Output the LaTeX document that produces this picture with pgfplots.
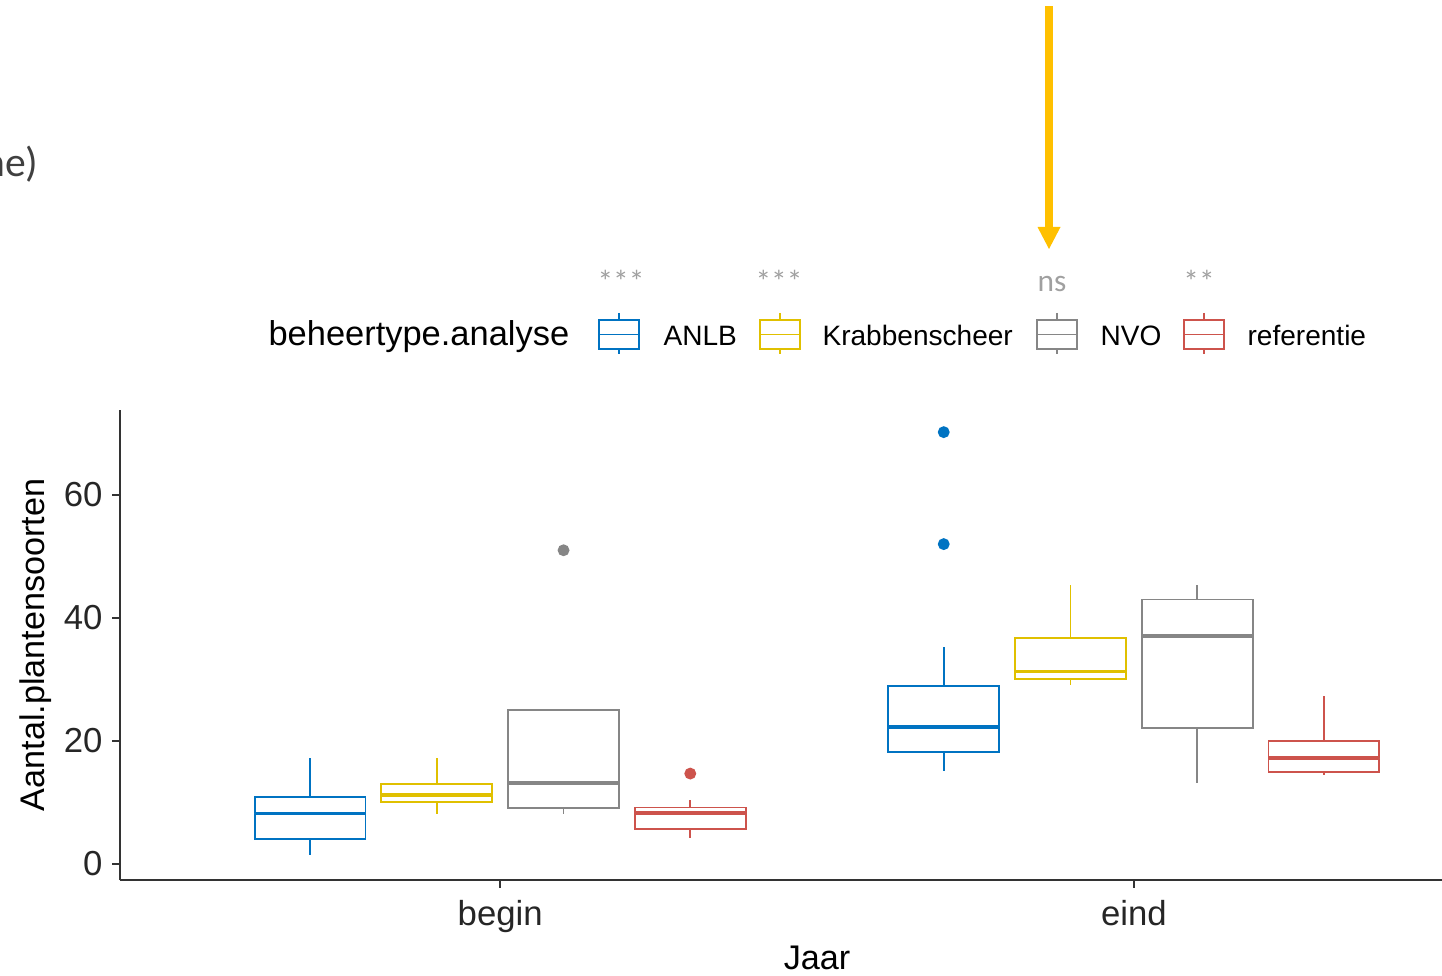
\documentclass[border=0pt]{standalone}
\usepackage{fontspec}
\setmainfont{Liberation Sans}
\newfontfamily\calfont{Carlito}
\usepackage{pgfplots}
\pgfplotsset{compat=1.18}
\usepgfplotslibrary{statistics}
\definecolor{cA}{HTML}{0073C2}
\definecolor{cK}{HTML}{E0C000}
\definecolor{cN}{HTML}{868686}
\definecolor{cR}{HTML}{CD534C}
\definecolor{arr}{HTML}{FFC000}
\definecolor{sig}{HTML}{A0A0A0}
\newcommand\legkey[2]{%
  \draw[#2, line width=0.55pt] (#1-20,320) rectangle (#1+20,349);
  \draw[#2, line width=0.55pt] (#1-20,334.5) -- (#1+20,334.5);
  \draw[#2, line width=0.55pt] (#1,313)--(#1,320) (#1,349)--(#1,354);
}
\pgfplotsset{
  bx/.style={#1, line width=0.65pt, fill=white, mark=*, mark size=1.8pt,
    mark options={fill=#1, draw=#1}},
}
\begin{document}
\begin{tikzpicture}
\useasboundingbox (0,0) rectangle (519.12pt,351pt);
\begin{axis}[
  at={(43.2pt,34.2pt)}, anchor=south west,
  scale only axis, width=501.84pt, height=169.2pt,
  xmin=0.4, xmax=2.6, ymin=-2.6, ymax=73.8,
  axis x line*=bottom, axis y line*=left,
  axis line style={black!80, line width=0.6pt},
  xtick={1,2}, xticklabels={begin,eind},
  ytick={0,20,40,60},
  tick align=outside, major tick length=2.8pt,
  tick style={black!80, line width=0.6pt},
  ticklabel style={font=\fontsize{12.5}{14}\selectfont, text=black!85},
  xticklabel style={yshift=-1pt},
  /pgf/number format/assume math mode=true,
  xlabel={Jaar}, ylabel={Aantal.plantensoorten},
  label style={font=\fontsize{12.3}{14}\selectfont},
  xlabel style={yshift=2pt},
  ylabel style={yshift=-2.5pt},
  boxplot/draw direction=y,
  boxplot/box extend=0.175,
  boxplot/whisker extend=0,
  boxplot/every median/.style={line width=1.3pt},
  clip=false,
]
% begin
\addplot[bx=cA, boxplot prepared={draw position=0.7, lower whisker=1.5, lower quartile=4.0, median=8.2, upper quartile=10.9, upper whisker=17.2}] coordinates {};
\addplot[bx=cK, boxplot prepared={draw position=0.9, lower whisker=8.2, lower quartile=10.1, median=11.2, upper quartile=13.0, upper whisker=17.2}] coordinates {};
\addplot[bx=cN, boxplot prepared={draw position=1.1, lower whisker=8.2, lower quartile=9.1, median=13.2, upper quartile=25.0, upper whisker=25.0}] table[row sep=\\, y index=0] {v\\ 51.0\\};
\addplot[bx=cR, boxplot prepared={draw position=1.3, lower whisker=4.2, lower quartile=5.7, median=8.3, upper quartile=9.2, upper whisker=10.4}] table[row sep=\\, y index=0] {v\\ 14.7\\};
% eind
\addplot[bx=cA, boxplot prepared={draw position=1.7, lower whisker=15.1, lower quartile=18.2, median=22.3, upper quartile=29.0, upper whisker=35.2}] table[row sep=\\, y index=0] {v\\ 52.0\\ 70.2\\};
\addplot[bx=cK, boxplot prepared={draw position=1.9, lower whisker=29.1, lower quartile=30.1, median=31.3, upper quartile=36.8, upper whisker=45.4}] coordinates {};
\addplot[bx=cN, boxplot prepared={draw position=2.1, lower whisker=13.2, lower quartile=22.1, median=37.1, upper quartile=43.0, upper whisker=45.4}] coordinates {};
\addplot[bx=cR, boxplot prepared={draw position=2.3, lower whisker=14.5, lower quartile=14.9, median=17.2, upper quartile=20.0, upper whisker=27.3}] coordinates {};
\end{axis}
\begin{scope}[x=0.36pt, y=-0.36pt, yshift=351pt]
  % legend
  \node[anchor=base west, inner sep=0, font=\fontsize{12.4}{14}\selectfont] at (268,346) {beheertype.analyse};
  \legkey{619}{cA}
  \legkey{780}{cK}
  \legkey{1057}{cN}
  \legkey{1204}{cR}
  \begin{scope}[every node/.style={anchor=base west, inner sep=0, font=\fontsize{10.1}{12}\selectfont}]
    \node at (663,346) {ANLB};
    \node at (822,346) {Krabbenscheer};
    \node at (1100,346) {NVO};
    \node at (1247,346) {referentie};
  \end{scope}
  % significance
  \begin{scope}[every node/.style={inner sep=0, anchor=base, text=sig, font=\calfont\fontsize{11.3}{13}\selectfont}]
    \node at (621,293) {***};
    \node at (779,293) {***};
    \node at (1199,293) {**};
    \node[anchor=base west] at (1037,292) {ns};
  \end{scope}
  % cut-off text (cut at the left edge, as in the reference)
  \node[anchor=base east, inner sep=0, text=black!75, font=\calfont\fontsize{15}{18}\selectfont] at (39,177) {ne)};
  % arrow
  \fill[arr] (1045.2,6) rectangle (1052.8,229);
  \fill[arr] (1037.5,227) -- (1060.5,227) -- (1049,249) -- cycle;
\end{scope}
\end{tikzpicture}
\end{document}
